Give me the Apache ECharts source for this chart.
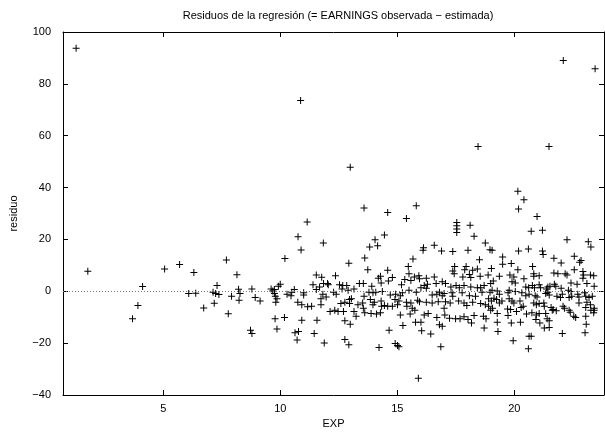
<!DOCTYPE html>
<html>
<head>
<meta charset="utf-8">
<script src="https://cdn.jsdelivr.net/npm/echarts@6/dist/echarts.min.js"></script>
<style>
html, body { margin: 0; padding: 0; background: #fff; }
#chart { width: 605px; height: 435px; }
</style>
</head>
<body>
<div id="chart"></div>
<script>
// EXP values (x)
const expVals = [
  1.28, 1.78, 3.69, 3.92, 4.12, 5.06, 5.70, 6.31, 6.09, 6.39, 6.73, 7.13, 7.18, 7.30, 7.24, 7.38, 7.70, 7.78, 7.92, 8.15, 8.22, 8.28, 8.24,
  10.87, 22.09, 23.45, 18.45, 21.48,
  12.99, 13.58, 11.15, 10.76, 11.84, 10.89, 10.20, 13.61, 12.93, 11.54, 11.77, 12.36, 8.79, 8.93, 9.14, 9.61, 9.68, 9.75, 9.75, 9.79,
  9.86, 9.81, 9.92, 10.00, 10.29, 10.46, 10.49, 10.60, 11.00, 11.00, 10.75, 10.92, 11.17, 11.34, 11.40, 11.68, 11.54, 11.85, 12.02,
  12.05, 11.82, 11.74, 11.96, 11.74, 12.28, 12.39, 12.53, 12.67, 12.84, 12.64, 12.90, 13.15, 13.38, 13.55, 12.59, 12.76, 12.96, 12.96,
  13.04, 13.32, 13.52, 13.55, 13.58, 12.13, 12.33, 12.47, 12.70, 13.15, 13.24, 12.76, 12.99, 9.78, 10.18, 10.92, 11.57, 8.73, 8.79,
  9.86, 10.63, 10.78, 11.45, 10.72, 11.88, 12.76, 12.93, 13.61,
  15.81, 14.59, 15.39, 17.54, 17.54, 17.54, 17.54, 18.11, 18.28, 14.45, 14.05, 14.16, 13.82, 16.12, 16.10, 16.58, 16.89, 17.37, 18.02,
  18.76, 15.67, 18.51, 13.74, 15.47, 17.45, 17.94, 17.88, 18.22, 18.42, 14.59, 17.37, 15.50, 17.43, 17.80, 18.08, 18.14, 18.54, 14.28,
  14.19, 14.79, 13.91, 14.31, 14.62, 15.18, 15.32, 15.58, 15.73, 15.92, 15.95, 16.24, 16.58, 16.29, 16.15, 16.66, 16.92, 17.06, 17.29,
  17.51, 17.65, 17.85, 18.14, 18.42, 18.56, 18.71, 13.79, 13.96, 14.08, 14.36, 14.70, 14.93, 15.13, 15.22, 15.50, 15.81, 16.01, 16.24,
  16.49, 16.69, 16.80, 16.92, 17.00, 17.34, 17.37, 17.77, 18.08, 18.34, 18.62, 13.85, 14.02, 14.31, 14.90, 15.07, 15.39, 15.58, 15.87,
  15.95, 16.24, 16.49, 16.75, 17.06, 17.26, 17.62, 17.85, 17.97, 18.22, 18.56, 18.76, 13.96, 14.33, 14.45, 14.59, 14.79, 15.01, 15.41,
  15.64, 15.75, 16.32, 16.15, 15.13, 15.55, 13.88, 14.11, 14.28, 17.00, 17.03, 17.23, 17.49, 17.68, 17.85, 18.02, 18.17, 18.28, 18.68,
  18.79, 18.71, 16.69, 16.80, 16.92, 16.01, 15.78, 15.24, 14.65, 16.04, 16.43, 14.91, 15.01, 15.07, 14.22, 16.86, 15.90,
  20.15, 20.41, 20.18, 20.97, 20.72, 21.20, 22.25, 23.16, 23.27, 18.96, 19.05, 20.18, 20.60, 21.20, 21.23, 21.69, 22.00, 22.56, 22.79,
  22.85, 19.50, 19.50, 19.87, 20.78, 19.02, 20.15, 22.56, 22.93, 22.96, 22.93, 23.25, 23.39, 20.83, 20.83, 21.06, 21.69, 21.86, 22.17,
  22.25, 19.36, 19.81, 19.98, 20.41, 18.88, 19.10, 18.99, 19.90, 20.04, 22.42, 22.68, 23.10, 23.41, 20.49, 20.61, 20.77, 20.86, 21.06,
  21.12, 21.37, 21.43, 21.52, 21.71, 21.77, 22.00, 22.31, 22.42, 18.96, 19.05, 19.27, 19.36, 19.78, 19.73, 20.04, 20.32, 20.49, 20.63,
  20.89, 20.97, 21.34, 21.43, 21.49, 21.82, 21.97, 22.05, 22.34, 22.45, 22.71, 22.76, 23.00, 23.05, 23.19, 23.33, 18.90, 19.02, 19.13,
  19.24, 19.36, 19.47, 19.78, 19.90, 19.98, 20.24, 20.38, 20.29, 20.83, 20.94, 21.06, 21.26, 21.28, 21.57, 21.66, 22.08, 22.14, 22.34,
  22.39, 22.76, 23.10, 23.25, 23.41, 23.05, 23.27, 18.90, 18.99, 19.07, 19.27, 19.73, 19.87, 20.26, 19.27, 19.30, 19.95, 20.63, 20.72,
  20.60, 20.75, 20.94, 21.06, 20.92, 21.09, 21.34, 21.40, 21.49, 21.28, 21.49, 22.05, 21.62, 21.79, 22.54, 22.62, 23.05, 23.07, 23.02,
  23.39, 23.41, 19.71, 19.84, 20.09, 20.52
];

// residuo values (y), same order
const residVals = [
  93.7, 7.7, -10.6, -5.5, 1.8, 8.6, 10.3, 7.2, -0.9, -0.8, -6.4, -0.4, -4.6, 2.2, -0.9, -1.2, 12.1, -8.7, -1.9, 6.4, 0.8, -0.9, -3.5,
  73.6, 89.0, 85.8, 55.8, 55.8,
  47.8, 32.1, 26.7, 21.0, 18.6, 15.9, 12.6, 12.8, 10.8, 6.3, 5.4, 6.0, 0.9, -2.4, -3.7, 0.9, 0.1, 0.7, -0.9, -1.9,
  -2.9, -4.2, 1.9, 2.7, -1.1, -1.7, -0.4, 0.7, -0.6, -1.4, -4.2, -5.2, -6.0, -5.8, 2.5, 1.7, 0.7, 3.0, 3.0,
  2.5, -1.1, -2.9, -2.2, -5.2, -0.4, -1.1, 2.5, 2.2, 2.2, 0.9, 0.4, 0.9, 3.0, 3.0, -4.7, -4.2, -3.2, -4.7,
  -2.9, -5.2, -4.5, -6.5, -1.9, -7.8, -7.3, -7.8, -7.8, -7.8, -9.6, -11.4, -12.7, -10.6, -10.1, -11.2, -11.2, -15.0, -16.3,
  -14.5, -16.0, -15.5, -16.3, -18.8, -19.9, -18.6, -20.6, -8.3,
  33.0, 30.4, 28.1, 26.5, 25.3, 24.0, 22.7, 25.5, 21.2, 21.7, 19.9, 17.6, 17.1, 16.8, 15.8, 17.8, 15.5, 15.3, 15.8,
  18.6, 12.5, 12.2, 8.3, 9.6, 9.6, 9.6, 8.3, 8.1, 8.6, 8.1, 7.8, 6.8, 6.8, 5.5, 6.5, 5.3, 5.8, 5.8,
  5.0, 5.3, 1.9, 3.2, 4.0, 2.5, 4.5, 4.2, 5.5, 6.0, 4.8, 5.0, 5.5, 2.7, 2.2, 3.0, 3.7, 3.0, 1.7,
  2.2, 1.4, 2.2, 1.7, 1.4, 1.4, 2.2, -0.4, -0.6, -0.4, -0.1, -1.4, -1.1, -1.7, -0.6, 0.4, -0.4, 1.4, 1.2,
  -1.4, -1.1, -0.4, -1.7, -0.9, -0.6, -1.9, -0.6, -1.7, -1.9, -0.4, -3.2, -4.2, -3.7, -3.2, -3.7, -4.2, -4.5, -3.5,
  -4.0, -4.2, -4.5, -4.0, -4.0, -4.5, -3.7, -4.5, -5.5, -4.2, -4.7, -5.2, -5.2, -5.8, -5.5, -5.8, -5.8, -5.2, -5.8,
  -6.5, -7.3, -8.6, -9.1, -9.1, -8.8, -8.6, -8.8, -8.3, -6.5, -9.1, -10.4, -10.6, -10.6, -9.8, -10.9, -12.2, -9.3, -9.6,
  -10.6, -14.2, -10.1, -12.9, -13.5, -11.9, -11.9, -13.2, -15.0, -15.2, -16.5, -20.1, -20.9, -21.4, -21.7, -21.4, -33.5,
  38.6, 35.3, 31.7, 28.8, 23.2, 23.5, 19.9, 19.1, 17.1, 16.0, 15.8, 15.5, 16.3, 15.5, 14.2, 12.7, 10.9, 13.5, 11.2,
  11.9, 13.2, 10.4, 10.7, 9.6, 8.8, 8.3, 8.3, 7.6, 6.3, 5.0, 6.3, 6.0, 6.8, 5.8, 6.0, 7.1, 6.8, 6.8,
  6.3, 5.8, 6.3, 5.5, 4.8, 6.3, 4.0, 3.0, 3.7, 3.2, 3.2, 2.7, 3.0, 1.9, 1.7, 1.4, 2.2, 1.4, 2.5,
  1.4, 0.9, 1.7, 1.9, 2.7, 1.9, 1.2, 0.4, -0.1, -0.4, 0.4, 0.1, -1.1, 0.4, -0.6, -0.1, -0.6, -1.7, -1.1,
  -1.7, -2.2, -0.9, -0.4, -1.4, -1.9, -2.4, -1.1, -2.4, -1.9, -1.1, -2.2, -0.6, -1.9, -2.4, -1.9, -2.9, -3.7, -2.7,
  -3.2, -4.5, -3.7, -2.9, -3.7, -4.5, -3.7, -5.8, -6.3, -4.5, -5.2, -4.7, -4.5, -5.8, -6.3, -7.0, -5.8, -6.5, -7.3,
  -8.1, -4.5, -4.2, -5.2, -6.5, -6.3, -7.3, -5.8, -7.3, -6.5, -8.6, -9.3, -12.2, -11.9, -11.9, -15.5, -19.1, -17.3, -17.3,
  -22.2, -8.3, -9.1, -8.6, -10.9, -12.2, -8.6, -10.6, -11.4, -14.2, -14.0, -16.3, -7.3, -7.5, -9.6, -10.1, -9.6, -12.7, -16.0,
  -8.3, -7.3, -6.8, -7.0, -7.8, -8.8
];

const xTicks = [5, 10, 15, 20];
const titleText = 'Residuos de la regresión (= EARNINGS observada \u2212 estimada)';

const points = expVals.map((x, i) => [x, residVals[i]]);

const chart = echarts.init(document.getElementById('chart'), null, { renderer: 'canvas' });
const font = 'Liberation Sans, Arial, sans-serif';
const frame = { show: true, onZero: false, lineStyle: { color: '#000', width: 1 } };

chart.setOption({
  animation: false,
  backgroundColor: '#fff',
  textStyle: { fontFamily: font },
  title: {
    text: titleText,
    left: 333,
    textAlign: 'center',
    top: 5,
    textStyle: { fontSize: 11, fontWeight: 'normal', color: '#000', fontFamily: font }
  },
  grid: { left: 61, right: 1, top: 32, bottom: 40, containLabel: false },
  xAxis: [
    {
      type: 'value', min: 0.72, max: 23.83, position: 'bottom',
      name: 'EXP', nameLocation: 'middle', nameGap: 23,
      nameTextStyle: { fontSize: 11, color: '#000', fontFamily: font },
      axisLine: frame,
      axisTick: { show: true, inside: true, length: 5, customValues: xTicks, lineStyle: { color: '#000' } },
      axisLabel: { show: true, customValues: xTicks, fontSize: 11, color: '#000', margin: 8, fontFamily: font },
      splitLine: { show: false }
    },
    {
      type: 'value', min: 0.72, max: 23.83, position: 'top',
      axisLine: frame,
      axisTick: { show: true, inside: true, length: 5, customValues: xTicks, lineStyle: { color: '#000' } },
      axisLabel: { show: false },
      splitLine: { show: false }
    }
  ],
  yAxis: [
    {
      type: 'value', min: -40, max: 100, interval: 20, position: 'left',
      name: 'residuo', nameLocation: 'middle', nameGap: 44, nameRotate: 90,
      nameTextStyle: { fontSize: 11, color: '#000', fontFamily: font },
      axisLine: frame,
      axisTick: { show: true, inside: true, length: 5, lineStyle: { color: '#000' } },
      axisLabel: {
        fontSize: 11, color: '#000', margin: 12, fontFamily: font,
        formatter: v => (v < 0 ? '\u2212' + Math.abs(v) : String(v))
      },
      splitLine: { show: false }
    },
    {
      type: 'value', min: -40, max: 100, interval: 20, position: 'right',
      axisLine: frame,
      axisTick: { show: true, inside: true, length: 5, lineStyle: { color: '#000' } },
      axisLabel: { show: false },
      splitLine: { show: false }
    }
  ],
  series: [
    {
      type: 'scatter',
      xAxisIndex: 0,
      yAxisIndex: 0,
      data: points,
      symbol: 'path://M3,0H4V3H7V4H4V7H3V4H0V3H3Z',
      symbolSize: 7,
      itemStyle: { color: '#000', opacity: 1 },
      silent: true,
      markLine: {
        silent: true,
        symbol: ['none', 'none'],
        label: { show: false },
        lineStyle: { color: '#777', width: 1, type: [1, 2] },
        data: [{ yAxis: 0 }]
      }
    }
  ]
});
</script>
</body>
</html>
